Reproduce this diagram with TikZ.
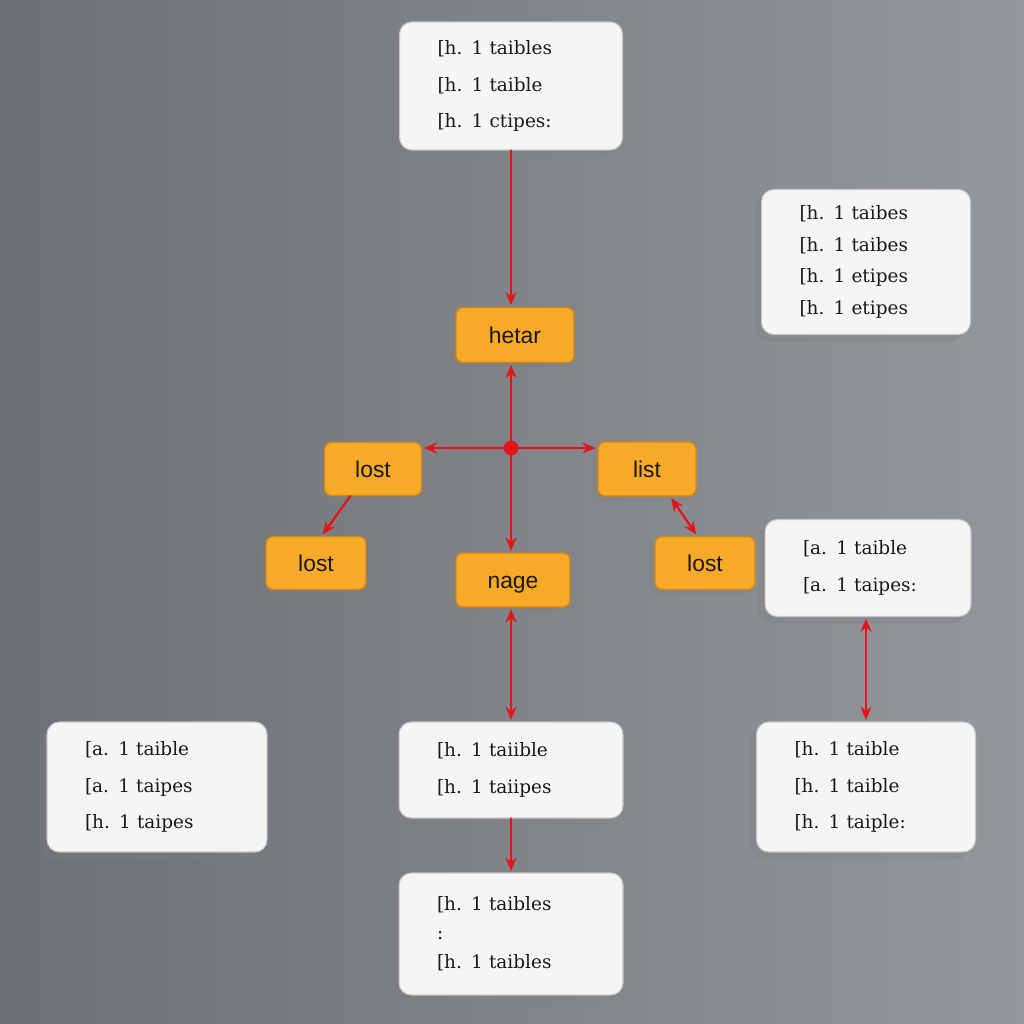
\documentclass[tikz,border=0pt]{standalone}
\usepackage{fontspec}
\newfontfamily\cardfont{DejaVu Serif}
\newfontfamily\tagfont{Liberation Sans}
\usetikzlibrary{arrows.meta,shadows}
\definecolor{ChartBackLeft}{RGB}{108,111,115}
\definecolor{ChartBackRight}{RGB}{148,151,155}
\definecolor{ChartCard}{RGB}{245,245,245}
\definecolor{ChartCardEdge}{RGB}{200,200,200}
\definecolor{ChartTag}{RGB}{246,170,40}
\definecolor{ChartTagEdge}{RGB}{212,136,20}
\definecolor{ChartInk}{RGB}{25,25,25}
\definecolor{ChartLink}{RGB}{228,20,24}
\newcommand{\cardh}[1]{\lbrack h. 1 #1}
\newcommand{\carda}[1]{\lbrack a. 1 #1}
\tikzset{
    chart/diagram/.style={
        x=0.02cm, y=-0.02cm,
        line cap=round,
        line join=round,
        >=Stealth
    },
    chart/card/.style={
        draw=ChartCardEdge, fill=ChartCard, line width=0.6pt,
        rounded corners=7pt, text=ChartInk, align=left,
        font=\cardfont\fontsize{10.5}{21}\selectfont,
        inner xsep=0.76cm, inner ysep=3pt, text width=#1,
        drop shadow={shadow xshift=-4pt, shadow yshift=-4pt, opacity=0.3}
    },
    chart/tag/.style={
        draw=ChartTagEdge, fill=ChartTag, line width=0.8pt,
        rounded corners=4pt, text=ChartInk, inner sep=0pt,
        text height=9.5pt, text depth=0pt,
        font=\tagfont\fontsize{13}{15}\selectfont,
        drop shadow={shadow xshift=-3pt, shadow yshift=-3pt, opacity=0.3}
    },
    chart/link/.style={
        draw=ChartLink, line width=1.3pt, shorten >=1pt,
        -{Stealth[length=2.6mm, width=2.2mm]}
    },
    chart/both/.style={
        chart/link, shorten <=1pt,
        {Stealth[length=2.6mm, width=2.2mm]}-{Stealth[length=2.6mm, width=2.2mm]}
    }
}
\begin{document}
\begin{tikzpicture}[chart/diagram]
    % backdrop
    \useasboundingbox (0,0) rectangle (1024,1024);
    \shade[left color=ChartBackLeft, right color=ChartBackRight] (0,0) rectangle (1024,1024);
    % white cards
    \node[chart/card=2.94cm, minimum height=2.56cm] (top) at (511,86)
        {\cardh{taibles}\\ \cardh{taible}\\ \cardh{ctipes:}};
    \node[chart/card=2.66cm, minimum height=2.90cm,
        font=\cardfont\fontsize{10.5}{18}\selectfont] (side) at (866,262)
        {\cardh{taibes}\\ \cardh{taibes}\\ \cardh{etipes}\\ \cardh{etipes}};
    \node[chart/card=2.60cm, minimum height=1.94cm] (rmid) at (868,568)
        {\carda{taible}\\ \carda{taipes:}};
    \node[chart/card=2.88cm, minimum height=2.60cm] (bleft) at (157,787)
        {\carda{taible}\\ \carda{taipes}\\ \cardh{taipes}};
    \node[chart/card=2.96cm, minimum height=1.92cm] (bmid) at (511,770)
        {\cardh{taiible}\\ \cardh{taiipes}};
    \node[chart/card=2.86cm, minimum height=2.60cm] (bright) at (866,787)
        {\cardh{taible}\\ \cardh{taible}\\ \cardh{taiple:}};
    \node[chart/card=2.96cm, minimum height=2.44cm,
        font=\cardfont\fontsize{10.5}{16.5}\selectfont] (bottom) at (511,934)
        {\cardh{taibles}\\ :\\ \cardh{taibles}};
    % orange tags
    \node[chart/tag, minimum width=2.36cm, minimum height=1.10cm] (hetar) at (515,335) {hetar};
    \node[chart/tag, minimum width=1.94cm, minimum height=1.06cm] (lostl) at (373,469) {lost};
    \node[chart/tag, minimum width=1.96cm, minimum height=1.08cm] (list) at (647,469) {list};
    \node[chart/tag, minimum width=2.00cm, minimum height=1.06cm] (lostb) at (316,563) {lost};
    \node[chart/tag, minimum width=2.28cm, minimum height=1.08cm] (nage) at (513,580) {nage};
    \node[chart/tag, minimum width=2.00cm, minimum height=1.06cm] (lostr) at (705,563) {lost};
    % red links
    \coordinate (hub) at (511,448);
    \draw[chart/link] (top.south) -- (top.south |- hetar.north);
    \draw[chart/link] (hub) -- (hub |- hetar.south);
    \draw[chart/link] (hub) -- (hub -| lostl.east);
    \draw[chart/link] (hub) -- (hub -| list.west);
    \draw[chart/link] (hub) -- (hub |- nage.north);
    \fill[ChartLink] (hub) circle[radius=0.15cm];
    \draw[chart/link] (lostl.-130) -- (lostb.78);
    \draw[chart/both] (list.-50) -- (lostr.106);
    \draw[chart/both] (bmid.north |- nage.south) -- (bmid.north);
    \draw[chart/both] (bright.north |- rmid.south) -- (bright.north);
    \draw[chart/link] (bmid.south) -- (bottom.north);
\end{tikzpicture}
\end{document}
